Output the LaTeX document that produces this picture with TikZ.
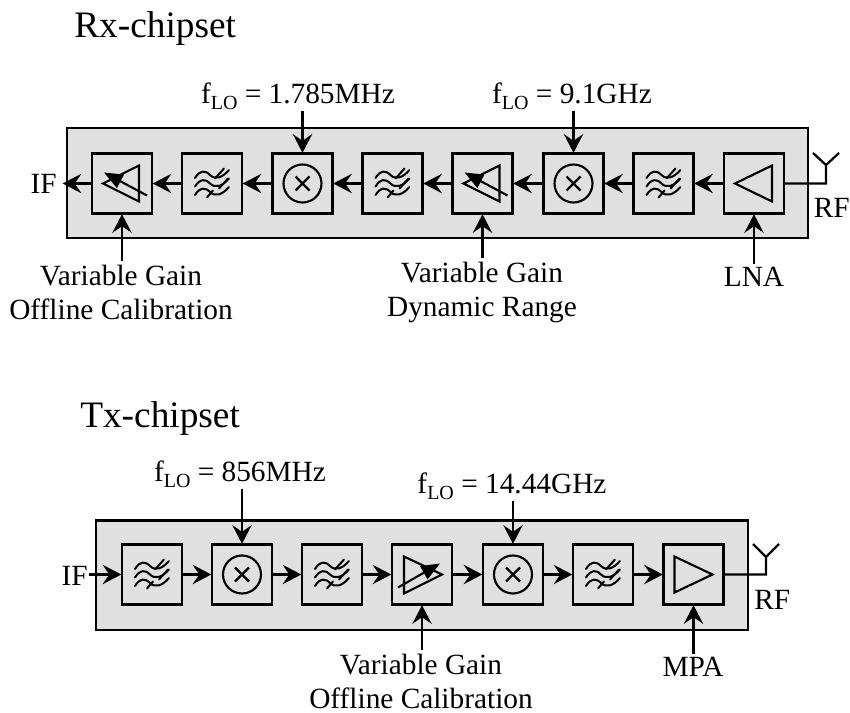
\documentclass[tikz,border=0pt]{standalone}
\usepackage{fontspec}
\setmainfont{Liberation Serif}
\usetikzlibrary{arrows.meta}
\tikzset{
  x=0.75pt,y=-0.75pt,
  panel/.style={draw=black,line width=2.2pt,fill=panelgray},
  blockbox/.style={draw=black,line width=2.2pt,fill=panelgray,minimum width=45pt,minimum height=45pt,inner sep=0pt,outer sep=0pt},
  wire/.style={line width=1.7pt},
  sig/.style={wire,-{Stealth[length=14pt,width=14.5pt,inset=5pt]},shorten >=0.5pt},
  sym/.style={line width=1.6pt,line join=miter},
  lab/.style={font=\fontsize{22}{25.5}\selectfont,inner sep=0pt,align=center},
  head/.style={font=\fontsize{28}{32}\selectfont,inner sep=0pt,anchor=base west},
}
\definecolor{panelgray}{gray}{0.88}
\newcommand{\flo}[1]{f\raisebox{-0.2em}{\fontsize{15}{15}\selectfont LO} = #1}
\newcommand{\symfilter}[1]{%
  \begin{scope}[shift={(#1)},sym,line width=1.5pt,line cap=round]
    \foreach \d in {-8.5,0,8.5}{
      \draw (-17,\d+3) .. controls (-12,\d-5) and (-7,\d-5) .. (-2,\d) .. controls (3,\d+5) and (10,\d+3) .. (17,\d-5);
    }
    \draw (12,-15) -- (3,-5);
    \draw (16,-5) -- (7,5);
    \draw (1,7) -- (-5,14);
  \end{scope}}
\newcommand{\symmixer}[1]{%
  \begin{scope}[shift={(#1)},sym]
    \draw (0,0) circle (19);
    \draw (-7,-7) -- (7,7) (-7,7) -- (7,-7);
  \end{scope}}
\newcommand{\symampL}[1]{%
  \begin{scope}[shift={(#1)},sym]
    \draw (18,-18) -- (18,18) -- (-19,0) -- cycle;
  \end{scope}}
\newcommand{\symampR}[1]{%
  \begin{scope}[shift={(#1)},sym]
    \draw (-19,-18) -- (-19,18) -- (19,0) -- cycle;
  \end{scope}}
\newcommand{\symvgaL}[1]{%
  \begin{scope}[shift={(#1)},sym]
    \draw (17,-18) -- (17,18) -- (-19,0) -- cycle;
    \draw[-{Stealth[length=14pt,width=11pt,inset=0pt]}] (25,12) -- (-18,-11);
  \end{scope}}
\newcommand{\symvgaR}[1]{%
  \begin{scope}[shift={(#1)},sym]
    \draw (-18,-18) -- (-18,19) -- (20,0) -- cycle;
    \draw[-{Stealth[length=14pt,width=11pt,inset=0pt]}] (-24,13) -- (18,-11);
  \end{scope}}
\begin{document}
\begin{tikzpicture}
\useasboundingbox (0,0) rectangle (850,713);
% Rx
\node[head] (rxtitle) at (74,37.5) {Rx-chipset};
\draw[panel] (67,128) rectangle (808,238);
\foreach \n/\cx in {ra/122,rb/212,rc/302.5,rd/392.5,re/482.5,rf/573.5,rg/663.5,rh/754}
  \node[blockbox] (\n) at (\cx,183.5) {};
\symvgaL{ra.center}
\symfilter{rb.center}
\symmixer{rc.center}
\symfilter{rd.center}
\symvgaL{re.center}
\symmixer{rf.center}
\symfilter{rg.center}
\symampL{rh.center}
\foreach \a/\b in {rh/rg,rg/rf,rf/re,re/rd,rd/rc,rc/rb,rb/ra}
  \draw[sig] (\a.west) -- (\b.east);
\node[lab,anchor=base east] (rif) at (57,194) {IF};
\coordinate (rifend) at (62,183.5);
\draw[sig] (ra.west) -- (rifend);
\coordinate (rxfeed) at (826,183.5);
\coordinate (rxjoin) at (826,165);
\coordinate (rxl) at (813,153);
\coordinate (rxr) at (839,153);
\draw[wire,line join=miter] (rh.east) -- (rxfeed) -- (rxjoin) (rxl) -- (rxjoin) -- (rxr);
\node[lab,anchor=base west] (rxrf) at (813.5,218) {RF};
\node[lab] (lo1) at (298,96) {\flo{1.785MHz}};
\node[lab] (lo2) at (572,96) {\flo{9.1GHz}};
\draw[sig] (lo1.south -| rc.north) ++(0,1) -- (rc.north);
\draw[sig] (lo2.south -| rf.north) ++(0,1) -- (rf.north);
\node[lab] (v1) at (121,292) {Variable Gain\\Offline Calibration};
\node[lab] (v2) at (482,292) {Variable Gain\\Dynamic Range};
\node[lab] (lna) at (754,277) {LNA};
\draw[sig] (v1.north -| ra.south) ++(0,-3) -- (ra.south);
\draw[sig] (v2.north -| re.south) ++(0,-3) -- (re.south);
\draw[sig] (lna.north -| rh.south) ++(0,-3) -- (rh.south);
% Tx
\node[head] (txtitle) at (80,427) {Tx-chipset};
\draw[panel] (96,520.5) rectangle (748,630);
\foreach \n/\cx in {ta/152,tb/242,tc/332,td/422,te/513,tf/603,tg/693.5}
  \node[blockbox] (\n) at (\cx,574.5) {};
\symfilter{ta.center}
\symmixer{tb.center}
\symfilter{tc.center}
\symvgaR{td.center}
\symmixer{te.center}
\symfilter{tf.center}
\symampR{tg.center}
\foreach \a/\b in {ta/tb,tb/tc,tc/td,td/te,te/tf,tf/tg}
  \draw[sig] (\a.east) -- (\b.west);
\node[lab,anchor=base east] (tif) at (88,585) {IF};
\coordinate (tifstart) at (89,574.5);
\draw[sig] (tifstart) -- (ta.west);
\coordinate (txfeed) at (766,574.5);
\coordinate (txjoin) at (766,557);
\coordinate (txl) at (753,544);
\coordinate (txr) at (779,544);
\draw[wire,line join=miter] (tg.east) -- (txfeed) -- (txjoin) (txl) -- (txjoin) -- (txr);
\node[lab,anchor=base west] (txrf) at (754,609) {RF};
\node[lab] (lo3) at (240,474) {\flo{856MHz}};
\node[lab] (lo4) at (512,486) {\flo{14.44GHz}};
\draw[sig] (lo3.south -| tb.north) ++(0,1) -- (tb.north);
\draw[sig] (lo4.south -| te.north) ++(0,1) -- (te.north);
\node[lab] (v3) at (421,681) {Variable Gain\\Offline Calibration};
\node[lab] (mpa) at (693,667) {MPA};
\draw[sig] (v3.north -| td.south) ++(0,-3) -- (td.south);
\draw[sig] (mpa.north -| tg.south) ++(0,-3) -- (tg.south);
\end{tikzpicture}
\end{document}
